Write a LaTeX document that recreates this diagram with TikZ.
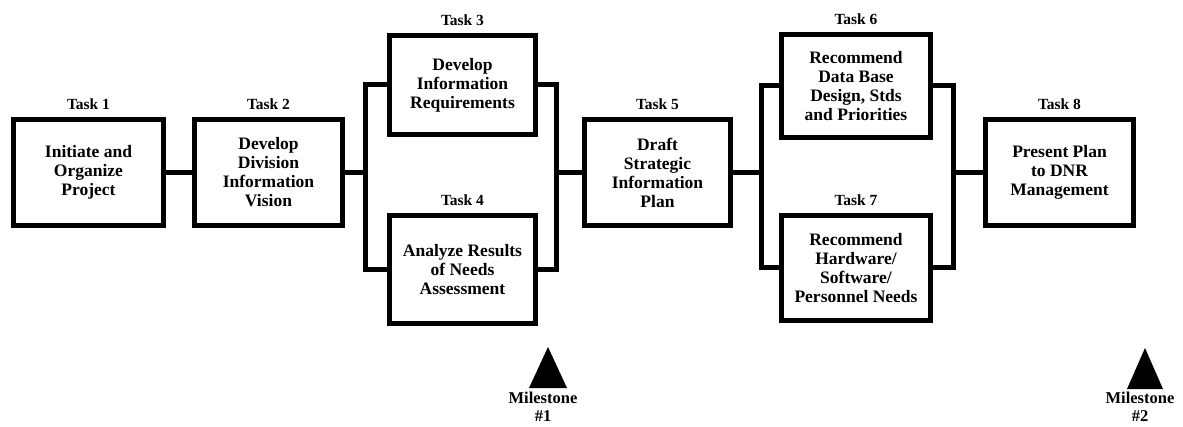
\documentclass[tikz,border=0pt]{standalone}
\usepackage{fontspec}
\setmainfont{Liberation Serif}
\usetikzlibrary{positioning}

\tikzset{
  taskbox/.style={draw, line width=5pt, align=center, inner sep=2pt,
    font=\bfseries\fontsize{17.5}{19}\selectfont},
  tasklabel/.style={inner sep=1pt, font=\bfseries\fontsize{15.5}{16}\selectfont},
  wire/.style={line width=5pt, line join=miter},
  mstext/.style={align=center, inner sep=0pt, font=\bfseries\fontsize{16.5}{18}\selectfont}
}

\begin{document}
\begin{tikzpicture}[x=1pt,y=-1pt]

\useasboundingbox (0,0) rectangle (1183,427);

\node[taskbox, minimum width=150pt, minimum height=106pt] (t1) at (88.5,172.5) {Initiate and\\Organize\\Project};
\node[taskbox, minimum width=148pt, minimum height=106pt] (t2) at (268.5,172.5) {Develop\\Division\\Information\\Vision};
\node[taskbox, minimum width=146pt, minimum height=99pt] (t3) at (462.5,85) {Develop\\Information\\Requirements};
\node[taskbox, minimum width=146pt, minimum height=108pt] (t4) at (462.5,269.5) {Analyze Results\\of Needs\\Assessment};
\node[taskbox, minimum width=146pt, minimum height=106pt] (t5) at (657.5,172.5) {Draft\\Strategic\\Information\\Plan};
\node[taskbox, minimum width=149pt, minimum height=103pt] (t6) at (856,86) {Recommend\\Data Base\\Design, Stds\\and Priorities};
\node[taskbox, minimum width=149pt, minimum height=105pt] (t7) at (856,268) {Recommend\\Hardware/\\Software/\\Personnel Needs};
\node[taskbox, minimum width=148pt, minimum height=106pt] (t8) at (1059.5,172.5) {Present Plan\\to DNR\\Management};

\node[tasklabel, above=6pt of t1] (l1) {Task 1};
\node[tasklabel, above=6pt of t2] (l2) {Task 2};
\node[tasklabel, above=6pt of t3] (l3) {Task 3};
\node[tasklabel, above=6pt of t4] (l4) {Task 4};
\node[tasklabel, above=6pt of t5] (l5) {Task 5};
\node[tasklabel, above=6pt of t6] (l6) {Task 6};
\node[tasklabel, above=6pt of t7] (l7) {Task 7};
\node[tasklabel, above=6pt of t8] (l8) {Task 8};

\coordinate (busA) at (365,172.5);
\coordinate (busB) at (556,172.5);
\coordinate (busC) at (761,172.5);
\coordinate (busD) at (953,172.5);

\draw[wire] (t1) -- (t2);
\draw[wire] (t2.east) -- (busA);
\draw[wire] (t3.west) -| (busA) |- (t4.west);
\draw[wire] (t3.east) -| (busB) |- (t4.east);
\draw[wire] (busB) -- (t5.west);
\draw[wire] (t5.east) -- (busC);
\draw[wire] (t6.west) -| (busC) |- (t7.west);
\draw[wire] (t6.east) -| (busD) |- (t7.east);
\draw[wire] (busD) -- (t8.west);

% milestones
\coordinate (m1) at (548,388);
\coordinate (m2) at (1145,389);
\fill (m1) ++(-19,0) -- ++(38,0) -- ++(-19,-41) -- cycle;
\fill (m2) ++(-18,0) -- ++(36,0) -- ++(-18,-41) -- cycle;
\node[mstext, below=4pt of m1, xshift=-5pt] (ms1) {Milestone\\\#1};
\node[mstext, below=3pt of m2, xshift=-5pt] (ms2) {Milestone\\\#2};

\end{tikzpicture}
\end{document}
